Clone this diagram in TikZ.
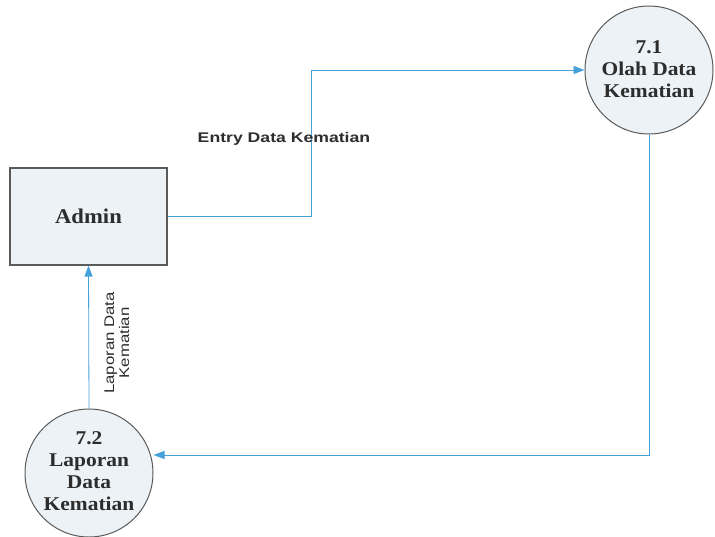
\documentclass[tikz,border=0pt]{standalone}
\usepackage{fontspec}
\setmainfont{Liberation Serif}
\setsansfont{Liberation Sans}
\usetikzlibrary{arrows.meta}
\definecolor{flow}{RGB}{70,160,220}
\definecolor{shapefill}{RGB}{236,242,246}
\definecolor{edgegray}{RGB}{90,90,90}
\definecolor{labelgray}{RGB}{45,45,45}
\tikzset{
  entity/.style={draw=edgegray, line width=1.1pt, fill=shapefill, minimum width=157pt, minimum height=97pt, inner sep=0pt},
  entitytext/.style={font=\fontsize{21}{24}\selectfont\bfseries, text=labelgray, inner sep=0pt, xscale=1.08},
  process/.style={circle, draw=edgegray, line width=1pt, fill=shapefill, minimum size=128pt, inner sep=0pt},
  processtext/.style={align=center, font=\fontsize{19.5}{22}\selectfont\bfseries, text=labelgray, inner sep=0pt, xscale=1.1},
  flowline/.style={draw=flow, line width=0.8pt, -{Triangle[length=11pt,width=8pt]}},
  flowlabel/.style={font=\sffamily\fontsize{14}{15}\selectfont, text=labelgray, inner sep=0pt, align=center}
}
\begin{document}
\begin{tikzpicture}[x=1pt,y=-1pt]
\useasboundingbox (0,0) rectangle (715,536);
\node[entity] (admin) at (88.5,216.5) {};
\node[entitytext] (admint) at (admin.center) {Admin};
\node[process] (p71) at (649,70) {};
\node[processtext] (p71t) at (649,69) {7.1\\Olah Data\\Kematian};
\node[process] (p72) at (89,473) {};
\node[processtext] (p72t) at (89,471) {7.2\\Laporan\\Data\\Kematian};
\coordinate (b1) at (311,216.5);
\coordinate (b2) at (311,70);
\coordinate (c1) at (649,455);
\draw[flowline] (admin.east) -- (b1) -- (b2) -- (p71.west);
\draw[flowline] (p71.south) -- (c1) -- (p72.east |- c1);
\draw[flowline] (p72.north) -- (admin.south);
\node[flowlabel, font=\sffamily\bfseries\fontsize{14}{15}\selectfont, xscale=1.26] (lab1) at (284,139) {Entry Data Kematian};
\node[flowlabel, rotate=90, xscale=1.2] (lab2) at (117,343) {Laporan Data\\Kematian};
\end{tikzpicture}
\end{document}
